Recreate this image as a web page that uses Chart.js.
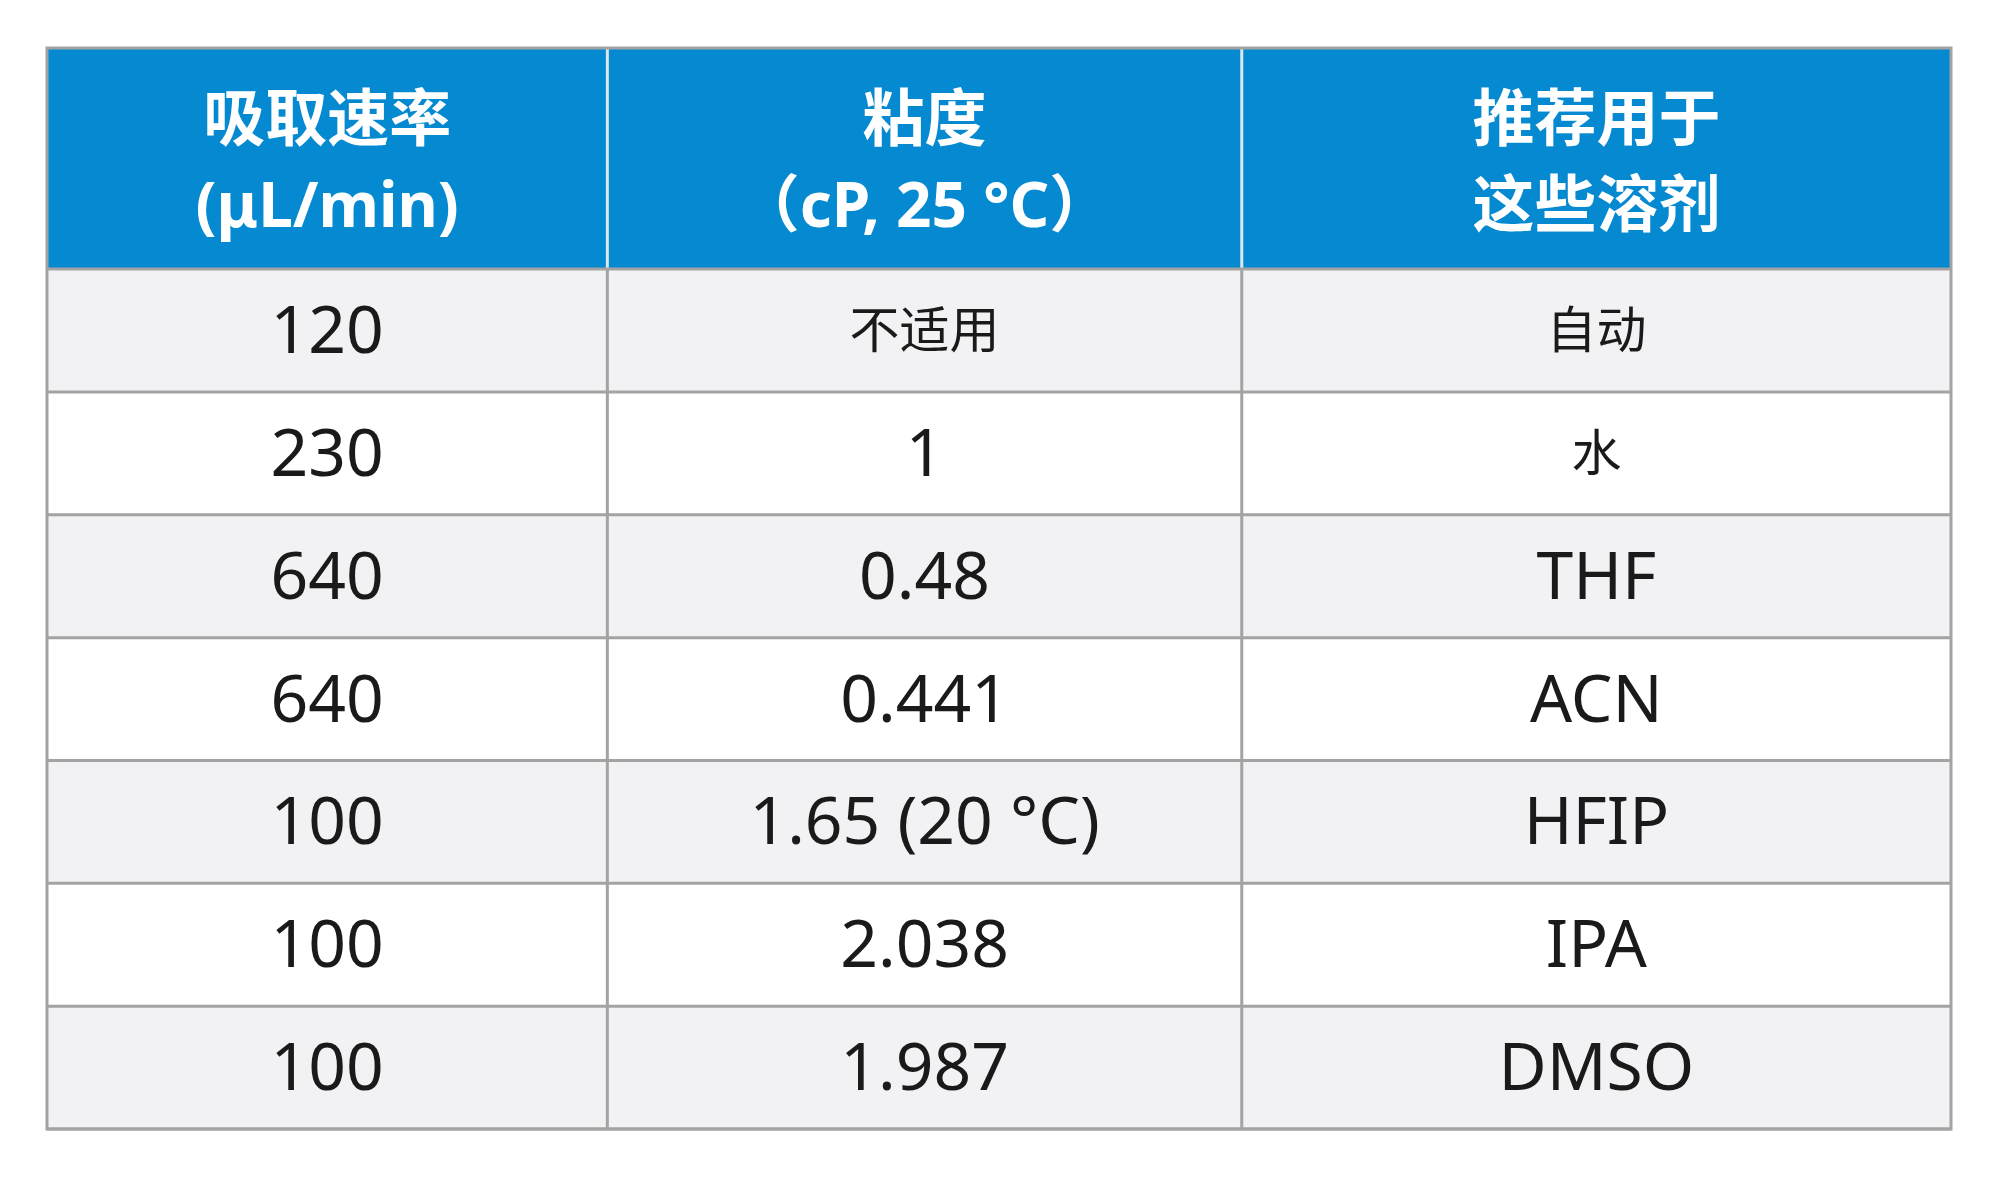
<!DOCTYPE html>
<html><head><meta charset="utf-8">
<script src="https://cdn.jsdelivr.net/npm/chart.js@4"></script>
<style>html,body{margin:0;background:#fff}#w{width:2000px;height:1184px}</style>
</head><body><div id="w"><canvas id="c"></canvas></div>
<script>
const headers = [["吸取速率","(μL/min)"],["粘度","（cP, 25 °C）"],["推荐用于","这些溶剂"]];
const rates = ["120","230","640","640","100","100","100"];
const viscosities = ["不适用","1","0.48","0.441","1.65 (20 °C)","2.038","1.987"];
const solvents = ["自动","水","THF","ACN","HFIP","IPA","DMSO"];
const colEdges = [0, 0.2943, 0.6275, 1];
const headerH = 1.8;
const FONT = '"Noto Sans","Noto Sans CJK SC",sans-serif';

const tablePlugin = {
  id:'table',
  afterDraw(chart){
    const ctx = chart.ctx, xs = chart.scales.x, ys = chart.scales.y;
    const X = v=>xs.getPixelForValue(v), Y = v=>ys.getPixelForValue(v);
    const cols = [rates, viscosities, solvents];
    const nRows = rates.length;
    ctx.save();
    // header
    ctx.fillStyle = '#0589d1';
    ctx.fillRect(X(0), Y(0), X(1)-X(0), Y(headerH)-Y(0));
    for(let r=0;r<nRows;r++){
      ctx.fillStyle = r%2===0 ? '#f2f2f4' : '#ffffff';
      ctx.fillRect(X(0), Y(headerH+r), X(1)-X(0), Y(headerH+r+1)-Y(headerH+r));
    }
    // header dividers
    ctx.strokeStyle = '#dfe6ec'; ctx.lineWidth = 3;
    for(let c=1;c<3;c++){ctx.beginPath();ctx.moveTo(X(colEdges[c]),Y(0));ctx.lineTo(X(colEdges[c]),Y(headerH));ctx.stroke();}
    // body grid
    ctx.strokeStyle = '#a3a3a3'; ctx.lineWidth = 3;
    for(let c=1;c<3;c++){ctx.beginPath();ctx.moveTo(X(colEdges[c]),Y(headerH));ctx.lineTo(X(colEdges[c]),Y(headerH+nRows));ctx.stroke();}
    for(let r=0;r<=nRows;r++){ctx.beginPath();ctx.moveTo(X(0),Y(headerH+r));ctx.lineTo(X(1),Y(headerH+r));ctx.stroke();}
    ctx.strokeRect(X(0),Y(0),X(1)-X(0),Y(headerH+nRows)-Y(0));
    // header text
    ctx.textAlign='center'; ctx.textBaseline='middle';
    ctx.fillStyle='#ffffff'; ctx.font='bold 62px '+FONT;
    for(let c=0;c<3;c++){
      const cx=(X(colEdges[c])+X(colEdges[c+1]))/2;
      ctx.fillText(headers[c][0], cx, Y(headerH*0.34));
      ctx.fillText(headers[c][1], cx, Y(headerH*0.73));
    }
    // body text
    ctx.fillStyle='#1a1a1a';
    for(let c=0;c<3;c++){
      const cx=(X(colEdges[c])+X(colEdges[c+1]))/2;
      for(let r=0;r<nRows;r++){
        const t=cols[c][r];
        ctx.font = (/[\u4e00-\u9fff]/.test(t)?'50px ':'66px ')+FONT;
        ctx.fillText(t, cx, Y(headerH+r+0.53));
      }
    }
    ctx.restore();
  }
};

new Chart(document.getElementById('c'),{
  type:'scatter',
  data:{datasets:[{data:[]}]},
  options:{
    responsive:true, maintainAspectRatio:false, animation:false,
    layout:{padding:{left:47,right:49,top:48,bottom:55}},
    plugins:{legend:{display:false},tooltip:{enabled:false}},
    scales:{
      x:{type:'linear',min:0,max:1,display:false},
      y:{type:'linear',min:0,max:headerH+rates.length,reverse:true,display:false}
    }
  },
  plugins:[tablePlugin]
});
</script></body></html>
